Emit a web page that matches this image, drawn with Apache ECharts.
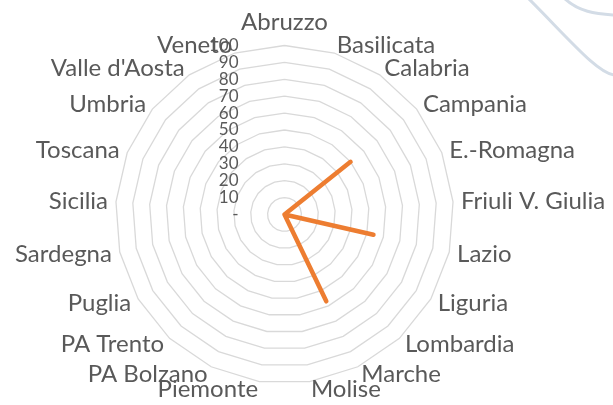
<!DOCTYPE html>
<html>
<head>
<meta charset="utf-8">
<script src="https://cdn.jsdelivr.net/npm/echarts@6/dist/echarts.min.js"></script>
<style>html,body{margin:0;padding:0;background:#fff;}#c{width:613px;height:405px;}</style>
</head>
<body>
<div id="c"></div>
<script>
// Categories in clockwise order starting from the top
const categories = ["Abruzzo","Basilicata","Calabria","Campania","E.-Romagna","Friuli V. Giulia","Lazio","Liguria","Lombardia","Marche","Molise","Piemonte","PA Bolzano","PA Trento","Puglia","Sardegna","Sicilia","Toscana","Umbria","Valle d'Aosta","Veneto"];
const values = [0,0,0,50,0,0,54,0,0,57,0,0,0,0,0,0,0,0,0,0,0];
const axisMax = 100;
const tickCount = 10;

// ECharts radar runs counter-clockwise, so reverse all but the first
const order = [0].concat(categories.slice(1).map((_, i) => categories.length - 1 - i));
const font = 'Lato';
const indicator = order.map((idx, k) => {
  const o = { name: categories[idx], max: axisMax, min: 0 };
  if (k === 0) {
    o.nameGap = 11;
    o.axisLabel = {
      show: true, color: '#595959', fontFamily: font, fontSize: 17, margin: 46,
      formatter: v => (v === 0 ? '-' : String(v))
    };
  }
  return o;
});
const seriesData = order.map(idx => values[idx]);

const chart = echarts.init(document.getElementById('c'), null, { renderer: 'canvas' });
chart.setOption({
  animation: false,
  backgroundColor: '#ffffff',
  graphic: [
    { type: 'bezierCurve', silent: true,
      shape: { x1: 527, y1: -3, cpx1: 570, cpy1: 40, cpx2: 598, cpy2: 74, x2: 615, y2: 75 },
      style: { stroke: '#d3dce6', lineWidth: 3, fill: null } },
    { type: 'bezierCurve', silent: true,
      shape: { x1: 563, y1: -3, cpx1: 578, cpy1: 12, cpx2: 596, cpy2: 14, x2: 615, y2: 15 },
      style: { stroke: '#d3dce6', lineWidth: 3, fill: null } }
  ],
  radar: {
    center: [284.5, 214.5],
    radius: 169,
    startAngle: 90,
    shape: 'polygon',
    splitNumber: tickCount,
    nameGap: 8,
    axisName: { color: '#595959', fontFamily: font, fontSize: 24 },
    axisLine: { show: false },
    axisTick: { show: false },
    axisLabel: { show: false },
    splitArea: { show: false },
    splitLine: { lineStyle: { color: '#d9d9d9', width: 1.3 } },
    indicator: indicator
  },
  series: [{
    type: 'radar',
    symbol: 'none',
    lineStyle: { color: '#ED7D31', width: 4.5, cap: 'round', join: 'round' },
    data: [{ value: seriesData }]
  }]
});
</script>
</body>
</html>
